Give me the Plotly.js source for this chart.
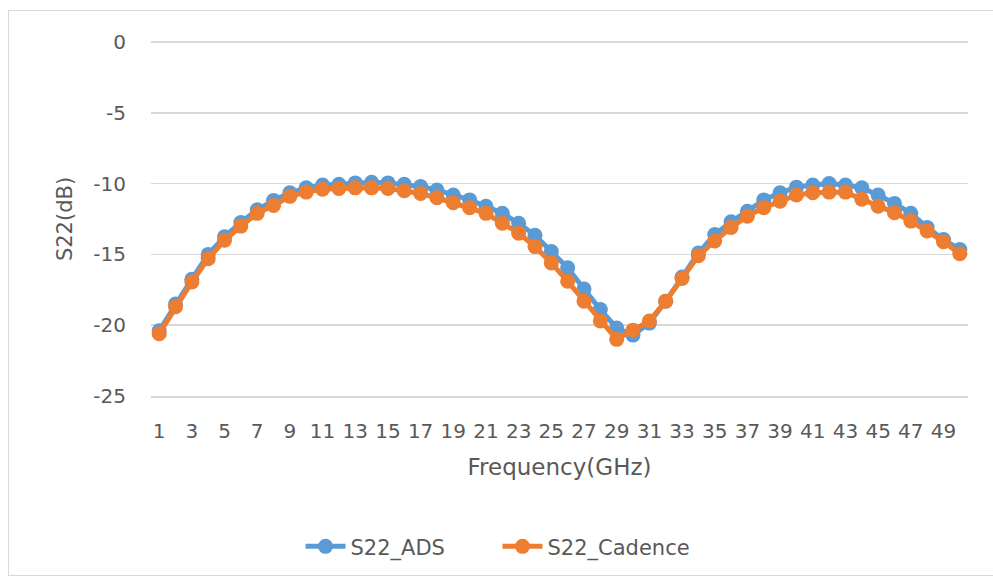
<!DOCTYPE html>
<html>
<head>
<meta charset="utf-8">
<script src="https://cdn.plot.ly/plotly-3.0.1.min.js"></script>
<style>
  html, body { margin: 0; padding: 0; background: #ffffff; }
  #wrap { position: relative; width: 993px; height: 581px; }
  #chart { width: 993px; height: 581px; }
  #frame { position: absolute; left: 8px; top: 10px; width: 990px; height: 566px;
           border: 1px solid #d9d9d9; pointer-events: none; box-sizing: border-box; }
</style>
</head>
<body>
<div id="wrap">
  <div id="chart"></div>
  <div id="frame"></div>
</div>
<script>
const frequency = ["1","2","3","4","5","6","7","8","9","10","11","12","13","14","15","16","17","18","19","20",
  "21","22","23","24","25","26","27","28","29","30","31","32","33","34","35","36","37","38","39","40",
  "41","42","43","44","45","46","47","48","49","50"];

const s22ADS = [-20.4, -18.5, -16.75, -15.0, -13.75, -12.75, -11.85, -11.2, -10.65, -10.3,
  -10.1, -10.05, -9.95, -9.9, -9.95, -10.05, -10.2, -10.45, -10.8, -11.15,
  -11.6, -12.1, -12.8, -13.65, -14.8, -15.95, -17.45, -18.9, -20.2, -20.7,
  -19.85, -18.3, -16.6, -14.9, -13.6, -12.7, -11.95, -11.15, -10.65, -10.25,
  -10.1, -10.0, -10.1, -10.3, -10.8, -11.4, -12.1, -13.1, -13.95, -14.65];

const s22Cadence = [-20.6, -18.7, -16.95, -15.3, -14.0, -13.0, -12.1, -11.55, -10.9, -10.6,
  -10.4, -10.35, -10.3, -10.3, -10.35, -10.5, -10.7, -11.0, -11.35, -11.7,
  -12.1, -12.8, -13.5, -14.45, -15.6, -16.9, -18.3, -19.7, -21.0, -20.35,
  -19.7, -18.3, -16.7, -15.1, -14.05, -13.1, -12.3, -11.7, -11.25, -10.8,
  -10.65, -10.6, -10.6, -11.1, -11.6, -12.05, -12.65, -13.35, -14.1, -14.95];

const xTickLabels = ["1","3","5","7","9","11","13","15","17","19","21","23","25","27","29","31","33","35","37","39","41","43","45","47","49"];
const yTickValues = [0, -5, -10, -15, -20, -25];
const yTickLabels = ["0", "-5", "-10", "-15", "-20", "-25"];

const blue = "#5B9BD5";
const orange = "#ED7D31";
const labelFont = "'DejaVu Sans', sans-serif";

const traces = [
  { x: frequency, y: s22ADS, name: "S22_ADS", type: "scatter", mode: "lines+markers",
    line: { color: blue, width: 5 }, marker: { color: blue, size: 15 } },
  { x: frequency, y: s22Cadence, name: "S22_Cadence", type: "scatter", mode: "lines+markers",
    line: { color: orange, width: 5 }, marker: { color: orange, size: 15 } }
];

const layout = {
  width: 993, height: 581,
  paper_bgcolor: "#ffffff", plot_bgcolor: "#ffffff",
  margin: { l: 151, r: 25, t: 42, b: 185 },
  showlegend: true,
  legend: {
    orientation: "h", xref: "container", yref: "container",
    x: 0.501, xanchor: "center", y: 0.059, yanchor: "middle",
    font: { family: labelFont, size: 21, color: "#595959" },
    itemwidth: 40, entrywidth: 142, entrywidthmode: "pixels"
  },
  xaxis: {
    type: "category", range: [-0.5, 49.5],
    tickmode: "array", tickvals: xTickLabels, ticktext: xTickLabels,
    showgrid: false, zeroline: false,
    showline: true, linecolor: "#d9d9d9", linewidth: 1.5,
    ticks: "", ticklabelstandoff: 16,
    tickfont: { family: labelFont, size: 20, color: "#595959" },
    title: { text: "Frequency(GHz)", font: { family: labelFont, size: 23, color: "#595959" }, standoff: 17 }
  },
  yaxis: {
    range: [-25, 0], tickmode: "array", tickvals: yTickValues, ticktext: yTickLabels,
    showgrid: true, gridcolor: "#d9d9d9", gridwidth: 1.5,
    zeroline: true, zerolinecolor: "#d9d9d9", zerolinewidth: 1.5,
    showline: false, ticks: "", ticklabelstandoff: 24,
    tickfont: { family: labelFont, size: 20, color: "#595959" },
    title: { text: "S22(dB)", font: { family: labelFont, size: 21, color: "#595959" }, standoff: 14 }
  }
};

Plotly.newPlot("chart", traces, layout, { displayModeBar: false, staticPlot: true });
</script>
</body>
</html>
